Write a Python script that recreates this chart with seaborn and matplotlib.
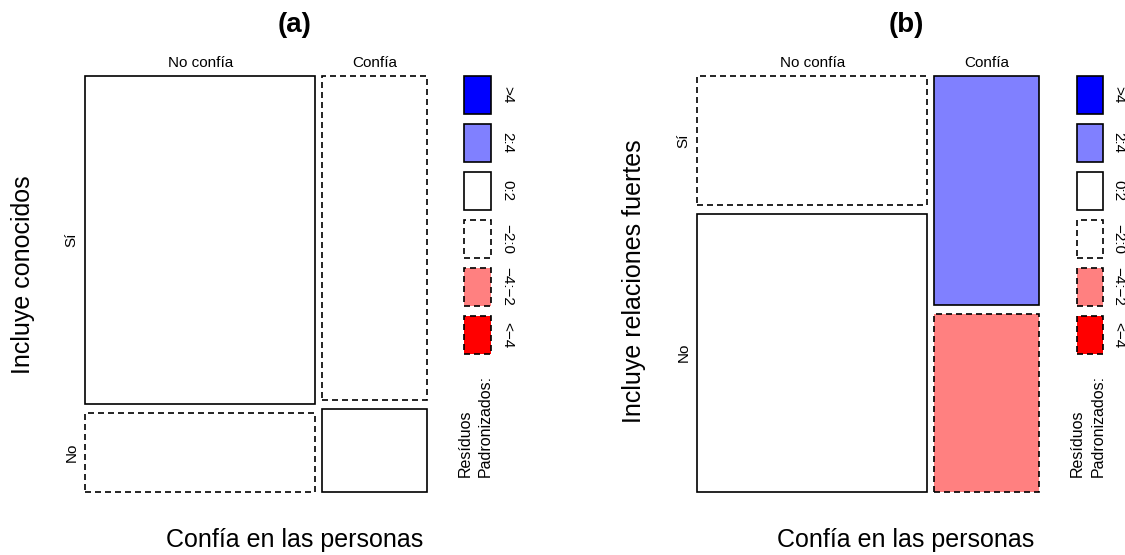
import numpy as np
import matplotlib
matplotlib.use("Agg")
import matplotlib.pyplot as plt
from matplotlib.patches import Rectangle
import seaborn as sns

sns.set_theme(style="white")
plt.rcParams["font.family"] = ["Liberation Sans", "DejaVu Sans"]
plt.rcParams["text.color"] = "black"

# Survey cross-tabulations: columns = trust in people, rows inside = response
trust_levels = ["No confía", "Confía"]
resp_levels = ["Sí", "No"]
counts_a = [[183, 44],   # No confía: Sí, No
            [82, 21]]    # Confía:    Sí, No
counts_b = [[72, 155],
            [58, 45]]

panel_titles = ["(a)", "(b)"]
row_titles = ["Incluye conocidos", "Incluye relaciones fuertes"]
col_title = "Confía en las personas"

legend_labels = [">4", "2:4", "0:2", "\u22122:0", "\u22124:\u22122", "<\u22124"]
legend_title = "Resíduos\nPadronizados:"
bin_edges = [-np.inf, -4, -2, 0, 2, 4, np.inf]
bin_colors = ["#FF0000", "#FF8080", "#FFFFFF", "#FFFFFF", "#8080FF", "#0000FF"]

W, H = 1125, 555
fig = plt.figure(figsize=(W / 100, H / 100), dpi=100)

LW = 1.2
DASH = (0, (3.6, 2.4))


def px_axes(x0, y0, x1, y1):
    """Axes from pixel box (top-left origin)."""
    return fig.add_axes([x0 / W, 1 - y1 / H, (x1 - x0) / W, (y1 - y0) / H])


def shade(res):
    k = np.searchsorted(bin_edges, res) - 1
    k = int(np.clip(k, 0, 5))
    return bin_colors[k], ("solid" if res >= 0 else DASH)


def mosaic(ax, counts, gx=0.0205, gy=0.0204):
    obs = np.asarray(counts, dtype=float)
    n = obs.sum()
    col_tot = obs.sum(axis=1)
    row_tot = obs.sum(axis=0)
    expected = np.outer(col_tot, row_tot) / n
    resid = (obs - expected) / np.sqrt(expected)

    widths = (1 - gx) * col_tot / n
    x = 0.0
    label_y = []
    for j, lvl in enumerate(trust_levels):
        hts = (1 - gy) * obs[j] / col_tot[j]
        tops = [1.0, hts[1]]
        for i in range(2):
            y0 = tops[i] - hts[i]
            fc, ls = shade(resid[j, i])
            ax.add_patch(Rectangle((x, y0), widths[j], hts[i], facecolor=fc,
                                   edgecolor="black", lw=LW, linestyle=ls,
                                   clip_on=False))
            if j == 0:
                label_y.append(y0 + hts[i] / 2)
        ax.text(x + widths[j] / 2, 1.021, lvl, ha="center", va="baseline",
                fontsize=11)
        x += widths[j] + gx
    for i, lvl in enumerate(resp_levels):
        ax.text(-0.039, label_y[i], lvl, rotation=90, ha="center",
                va="center", fontsize=11)
    ax.set_xlim(0, 1)
    ax.set_ylim(0, 1)
    ax.axis("off")


def legend(ax):
    # boxes from bottom (k=0, most negative) to top (k=5, most positive)
    for k in range(6):
        ls = "solid" if k >= 3 else DASH
        ax.add_patch(Rectangle((0, k), 1, 0.79, facecolor=bin_colors[k],
                               edgecolor="black", lw=LW, linestyle=ls,
                               clip_on=False))
        ax.text(1.33, k + 0.395, legend_labels[5 - k], rotation=270,
                ha="left", va="center", fontsize=11)
    ax.text(0.42, -2.57, legend_title, rotation=90, ha="center", va="bottom",
            multialignment="left", linespacing=1.45, fontsize=11.5)
    ax.set_xlim(0, 1)
    ax.set_ylim(0, 5.79)
    ax.axis("off")


panels = [
    dict(box=(85, 75.7, 427, 492), leg=(464, 491), counts=counts_a,
         cx=295, ylab_x=23, ylab_y=275),
    dict(box=(697, 75.7, 1039, 492), leg=(1077, 1103), counts=counts_b,
         cx=906, ylab_x=634, ylab_y=281),
]

for p, title, rlab in zip(panels, panel_titles, row_titles):
    ax = px_axes(*p["box"])
    mosaic(ax, p["counts"])
    lx0, lx1 = p["leg"]
    lax = px_axes(lx0, 75.7, lx1, 75.7 + 5.79 * 48)
    legend(lax)
    fig.text(p["cx"] / W, 1 - 25 / H, title, ha="center", va="center",
             fontsize=20, fontweight="bold")
    fig.text(p["cx"] / W, 1 - 540 / H, col_title, ha="center", va="center",
             fontsize=18)
    fig.text(p["ylab_x"] / W, 1 - p["ylab_y"] / H, rlab, rotation=90,
             ha="center", va="center", fontsize=18)

fig.savefig("out.png", dpi=100, facecolor="white")
